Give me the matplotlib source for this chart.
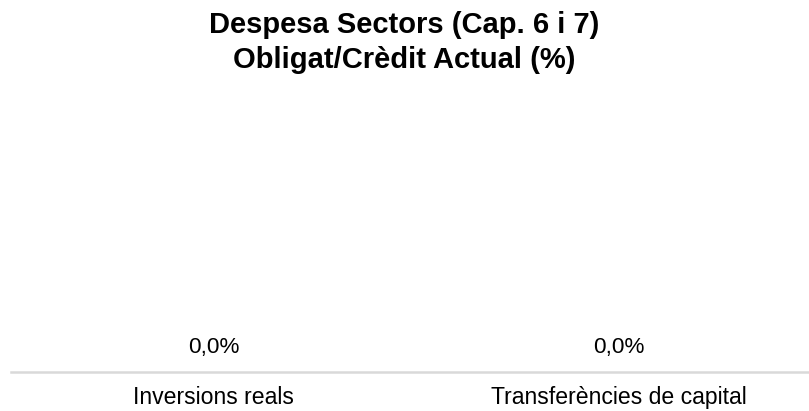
import matplotlib.pyplot as plt

plt.rcParams['font.family'] = ['Liberation Sans', 'DejaVu Sans']

# data
categories = ['Inversions reals', 'Transferències de capital']
values = [0.0, 0.0]
labels = ['0,0%', '0,0%']
title_lines = ['Despesa Sectors (Cap. 6 i 7)', 'Obligat/Crèdit Actual (%)']

W, H = 809, 411
fig = plt.figure(figsize=(W / 100, H / 100), dpi=100)
ax = fig.add_axes([11 / W, 1 - 371.5 / H, 810 / W, 0.6])

x = range(len(categories))
bars = ax.bar(x, values, width=0.6, color='#4472c4')
ax.set_xlim(-0.5, len(categories) - 0.5)
ax.set_ylim(0, 1)

# value labels above the (empty) bars
for b, lab in zip(bars, labels):
    ax.annotate(lab, (b.get_x() + b.get_width() / 2, b.get_height()),
                xytext=(0, 13.3), textcoords='offset points',
                ha='center', va='baseline', fontsize=16.2, color='#000000')

ax.set_xticks(list(x))
ax.set_xticklabels(categories, fontsize=16.6, va='baseline')
ax.tick_params(axis='x', length=0, pad=23.4)
ax.set_yticks([])
for s in ['top', 'right', 'left']:
    ax.spines[s].set_visible(False)
ax.spines['bottom'].set_color('#d9d9d9')
ax.spines['bottom'].set_linewidth(1.8)

# title, two lines
fig.text(0.5, 1 - 33 / H, title_lines[0], ha='center', va='baseline',
         fontsize=21, fontweight='bold')
fig.text(0.5, 1 - 67.5 / H, title_lines[1], ha='center', va='baseline',
         fontsize=21, fontweight='bold')

fig.savefig('out.png', dpi=100)
